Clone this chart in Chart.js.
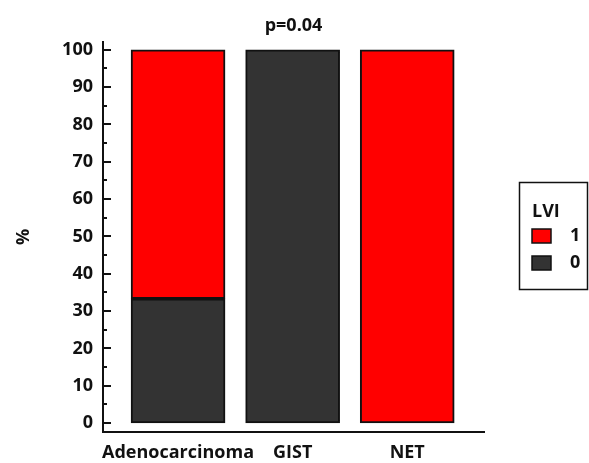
<!DOCTYPE html>
<html>
<head>
  <title>LVI by histology</title>
  <script src="https://cdn.jsdelivr.net/npm/chart.js@4.4.0/dist/chart.umd.min.js"></script>
  <style>
    body { margin: 0; background: #fff; }
  </style>
</head>
<body>
  <canvas id="lviChart" width="589" height="463"></canvas>

  <script>
    // data
    const categories = ['Adenocarcinoma', 'GIST', 'NET'];
    const lvi0 = [33.3, 100, 0];
    const lvi1 = [66.7, 0, 100];
    const yTicks = [0, 10, 20, 30, 40, 50, 60, 70, 80, 90, 100];
    const yMinorTicks = [5, 15, 25, 35, 45, 55, 65, 75, 85, 95];
    const titleText = 'p=0.04';
    const legendTitle = 'LVI';

    const FONT = "'Open Sans', sans-serif";
    const INK = '#111';

    // inward tick marks on the y axis (major + minor)
    const tickPlugin = {
      id: 'yTicksIn',
      afterDraw(chart) {
        const y = chart.scales.y;
        const ctx = chart.ctx;
        ctx.save();
        ctx.strokeStyle = INK;
        ctx.lineWidth = 2;
        const x0 = y.right;
        const mark = (v, len) => {
          const py = Math.round(y.getPixelForValue(v));
          ctx.beginPath();
          ctx.moveTo(x0, py);
          ctx.lineTo(x0 + len, py);
          ctx.stroke();
        };
        yTicks.forEach(v => mark(v, 8));
        yMinorTicks.forEach(v => mark(v, 4));
        ctx.restore();
      }
    };

    // boxed legend on the right, series listed top-down
    const legendPlugin = {
      id: 'boxLegend',
      afterDraw(chart) {
        const ctx = chart.ctx;
        ctx.save();
        ctx.strokeStyle = INK;
        ctx.lineWidth = 1.5;
        ctx.strokeRect(519.5, 182.5, 68, 107);
        ctx.fillStyle = INK;
        ctx.font = 'bold 18px ' + FONT;
        ctx.textBaseline = 'middle';
        ctx.textAlign = 'left';
        ctx.fillText(legendTitle, 532, 212);
        const sets = chart.data.datasets.slice().reverse();
        sets.forEach((ds, i) => {
          const top = 229 + i * 27;
          ctx.fillStyle = ds.backgroundColor;
          ctx.fillRect(532, top, 19, 14);
          ctx.lineWidth = 1.5;
          ctx.strokeRect(532, top, 19, 14);
          ctx.fillStyle = INK;
          ctx.fillText(ds.label, 570, top + 7);
        });
        ctx.restore();
      }
    };

    const toPoints = arr => arr.map((v, i) => ({ x: i, y: v }));

    const barStyle = {
      borderColor: INK,
      borderWidth: 2,
      borderSkipped: false,
      barThickness: 94
    };

    new Chart(document.getElementById('lviChart').getContext('2d'), {
      type: 'bar',
      data: {
        datasets: [
          Object.assign({ label: '0', data: toPoints(lvi0), backgroundColor: '#333333' }, barStyle),
          Object.assign({ label: '1', data: toPoints(lvi1), backgroundColor: '#ff0000' }, barStyle)
        ]
      },
      options: {
        responsive: false,
        animation: false,
        layout: { padding: { left: 0, right: 105, top: 0, bottom: 0 } },
        plugins: {
          legend: { display: false },
          tooltip: { enabled: false },
          title: {
            display: true,
            fullSize: false,
            text: titleText,
            color: INK,
            font: { family: FONT, size: 18, weight: 'bold' },
            padding: { top: 15, bottom: 5.4 }
          }
        },
        scales: {
          x: {
            type: 'linear',
            stacked: true,
            offset: false,
            min: -0.655,
            max: 2.67,
            grid: { display: false, drawTicks: false },
            border: { display: true, color: INK, width: 2 },
            afterBuildTicks: s => { s.ticks = categories.map((c, i) => ({ value: i })); },
            afterFit: s => { s.height = 31; },
            ticks: {
              autoSkip: false,
              maxRotation: 0,
              padding: 10,
              color: INK,
              font: { family: FONT, size: 18, weight: 'bold' },
              callback: v => categories[v]
            }
          },
          y: {
            stacked: true,
            min: -2.4,
            max: 102.1,
            grid: { display: false, drawTicks: false },
            border: { display: true, color: INK, width: 2 },
            afterBuildTicks: s => { s.ticks = yTicks.map(v => ({ value: v })); },
            afterFit: s => { s.width = 103; },
            ticks: {
              padding: 10,
              color: INK,
              font: { family: FONT, size: 18, weight: 'bold' }
            },
            title: {
              display: true,
              text: '%',
              color: INK,
              font: { family: FONT, size: 18, weight: 'bold' },
              padding: { top: 13, bottom: 0 }
            }
          }
        }
      },
      plugins: [tickPlugin, legendPlugin]
    });
  </script>
</body>
</html>
